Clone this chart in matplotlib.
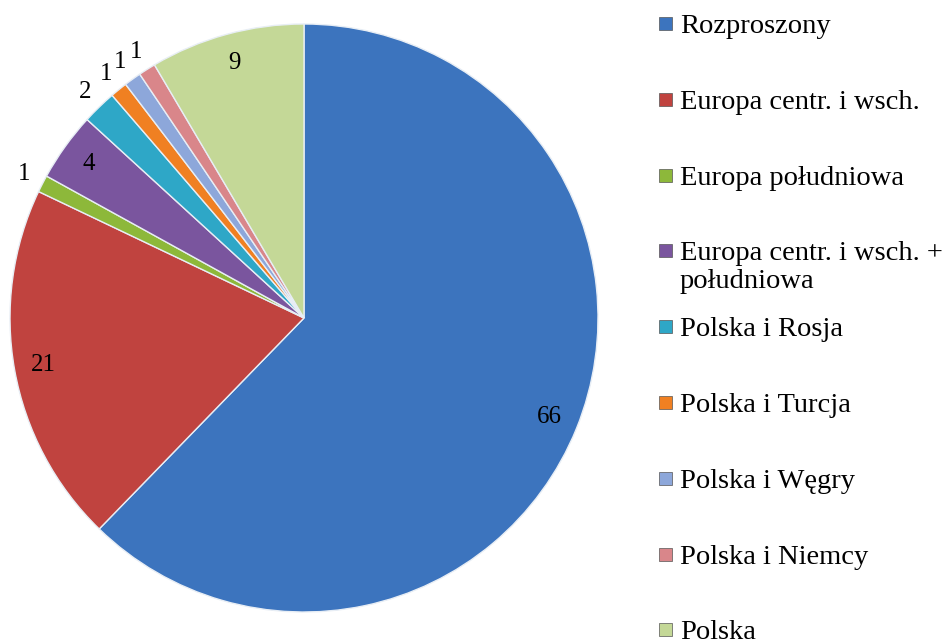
import numpy as np
import matplotlib.pyplot as plt
from matplotlib.patches import Rectangle

categories = ['Rozproszony', 'Europa centr. i wsch.', 'Europa południowa',
              'Europa centr. i wsch. +\npołudniowa', 'Polska i Rosja',
              'Polska i Turcja', 'Polska i Węgry', 'Polska i Niemcy', 'Polska']
values = [66, 21, 1, 4, 2, 1, 1, 1, 9]
colors = ['#3c74be', '#c0433f', '#8db83a', '#7a559e', '#2ea7c7',
          '#f08022', '#8da7da', '#d9868a', '#c4d897']

plt.rcParams['font.family'] = ['Liberation Serif', 'DejaVu Serif']

W, H = 951, 642
fig = plt.figure(figsize=(W / 100, H / 100), dpi=100)
ax = fig.add_axes([10/W, 30/H, 588/W, 588/H])

wedges, _ = ax.pie(values, colors=colors, startangle=90, counterclock=False,
                   radius=1.0, wedgeprops=dict(edgecolor='#e8eef5', linewidth=1.0))
ax.set_xlim(-1, 1)
ax.set_ylim(-1, 1)
ax.set_aspect('equal')
ax.axis('off')

# data labels: inside for big slices, outside for the thin ones
for w, v in zip(wedges, values):
    ang = np.deg2rad((w.theta1 + w.theta2) / 2)
    r = 0.9 if v >= 4 else 1.07
    ax.text(r * np.cos(ang), r * np.sin(ang), str(v), ha='center', va='center',
            fontsize=18, clip_on=False)

# legend, Excel style: fixed row pitch, wrapped label lines packed tight
row_top, pitch, line_h = 24, 75.8, 28
for i, (lab, c) in enumerate(zip(categories, colors)):
    yc = row_top + i * pitch
    fig.patches.append(Rectangle((659 / W, 1 - (yc + 6) / H), 13 / W, 13 / H,
                                 transform=fig.transFigure, facecolor=c,
                                 edgecolor='#555555', linewidth=0.5))
    for k, line in enumerate(lab.split('\n')):
        fig.text(680 / W, 1 - (yc + 9 + k * line_h) / H, line, fontsize=20.5,
                 ha='left', va='baseline')

fig.savefig('out.png', dpi=100)
